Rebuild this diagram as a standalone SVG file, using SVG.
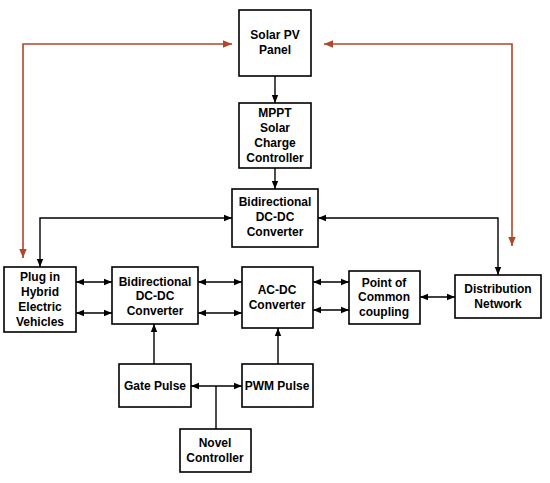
<svg xmlns="http://www.w3.org/2000/svg" width="550" height="483" viewBox="0 0 550 483">
<defs>
<style>
.box{fill:#fff;stroke:#000;stroke-width:1.6}
.t{font-family:"Liberation Sans",Arial,sans-serif;font-weight:bold;font-size:12px;text-anchor:middle;fill:#000}
.k{fill:none;stroke:#000;stroke-width:1.4}
.r{fill:none;stroke:#b0472a;stroke-width:1.6}
</style>
<marker id="ak" viewBox="0 0 8 8" refX="8" refY="4" markerWidth="8" markerHeight="8" markerUnits="userSpaceOnUse" orient="auto-start-reverse"><path d="M0,0.8 L8,4 L0,7.2 Z" fill="#000"/></marker>
<marker id="ar" viewBox="0 0 9 9" refX="9" refY="4.5" markerWidth="9" markerHeight="9" markerUnits="userSpaceOnUse" orient="auto-start-reverse"><path d="M0,0.8 L9,4.5 L0,8.2 Z" fill="#b0472a"/></marker>
</defs>
<rect width="550" height="483" fill="#fff"/>
<g id="connectors">
<path class="r" d="M23,258 V44 H232" marker-start="url(#ar)" marker-end="url(#ar)"/>
<path class="r" d="M324,44 H512 V246" marker-start="url(#ar)" marker-end="url(#ar)"/>
<path class="k" d="M275,76 V103" marker-end="url(#ak)"/>
<path class="k" d="M275,168 V189" marker-end="url(#ak)"/>
<path class="k" d="M40,267 V218 H232" marker-start="url(#ak)" marker-end="url(#ak)"/>
<path class="k" d="M318,218 H498 V275" marker-start="url(#ak)" marker-end="url(#ak)"/>
<path class="k" d="M76,282 H112" marker-start="url(#ak)" marker-end="url(#ak)"/>
<path class="k" d="M76,313 H112" marker-start="url(#ak)" marker-end="url(#ak)"/>
<path class="k" d="M198,282 H242" marker-start="url(#ak)" marker-end="url(#ak)"/>
<path class="k" d="M198,313 H242" marker-start="url(#ak)" marker-end="url(#ak)"/>
<path class="k" d="M313,282 H349" marker-start="url(#ak)" marker-end="url(#ak)"/>
<path class="k" d="M313,310 H349" marker-start="url(#ak)" marker-end="url(#ak)"/>
<path class="k" d="M420,297 H455" marker-start="url(#ak)" marker-end="url(#ak)"/>
<path class="k" d="M154,364 V324" marker-end="url(#ak)"/>
<path class="k" d="M278,364 V328" marker-end="url(#ak)"/>
<path class="k" d="M191,386 H242" marker-start="url(#ak)" marker-end="url(#ak)"/>
<path class="k" d="M216,429 V386"/>
</g>
<g id="solar"><rect class="box" x="239" y="10" width="72" height="66"/><text class="t" x="275" y="39">Solar PV</text><text class="t" x="275" y="54">Panel</text></g>
<g id="mppt"><rect class="box" x="239" y="103" width="72" height="65"/><text class="t" x="275" y="117">MPPT</text><text class="t" x="275" y="132">Solar</text><text class="t" x="275" y="147">Charge</text><text class="t" x="275" y="162">Controller</text></g>
<g id="dcdc-top"><rect class="box" x="232" y="189" width="86" height="58"/><text class="t" x="275" y="206">Bidirectional</text><text class="t" x="275" y="221">DC-DC</text><text class="t" x="275" y="236">Converter</text></g>
<g id="phev"><rect class="box" x="4" y="267" width="72" height="65"/><text class="t" x="40" y="281">Plug in</text><text class="t" x="40" y="296">Hybrid</text><text class="t" x="40" y="311">Electric</text><text class="t" x="40" y="326">Vehicles</text></g>
<g id="dcdc-bottom"><rect class="box" x="112" y="267" width="86" height="57"/><text class="t" x="155" y="286">Bidirectional</text><text class="t" x="155" y="300">DC-DC</text><text class="t" x="155" y="315">Converter</text></g>
<g id="acdc"><rect class="box" x="242" y="267" width="71" height="61"/><text class="t" x="277" y="294">AC-DC</text><text class="t" x="277" y="309">Converter</text></g>
<g id="pcc"><rect class="box" x="349" y="271" width="71" height="53"/><text class="t" x="384" y="287">Point of</text><text class="t" x="384" y="301">Common</text><text class="t" x="384" y="316">coupling</text></g>
<g id="dist"><rect class="box" x="455" y="275" width="86" height="43"/><text class="t" x="498" y="293">Distribution</text><text class="t" x="498" y="308">Network</text></g>
<g id="gate"><rect class="box" x="119" y="364" width="72" height="43"/><text class="t" x="155" y="390">Gate Pulse</text></g>
<g id="pwm"><rect class="box" x="242" y="364" width="71" height="43"/><text class="t" x="277" y="390">PWM Pulse</text></g>
<g id="novel"><rect class="box" x="180" y="429" width="71" height="43"/><text class="t" x="215" y="447">Novel</text><text class="t" x="215" y="462">Controller</text></g>
</svg>
